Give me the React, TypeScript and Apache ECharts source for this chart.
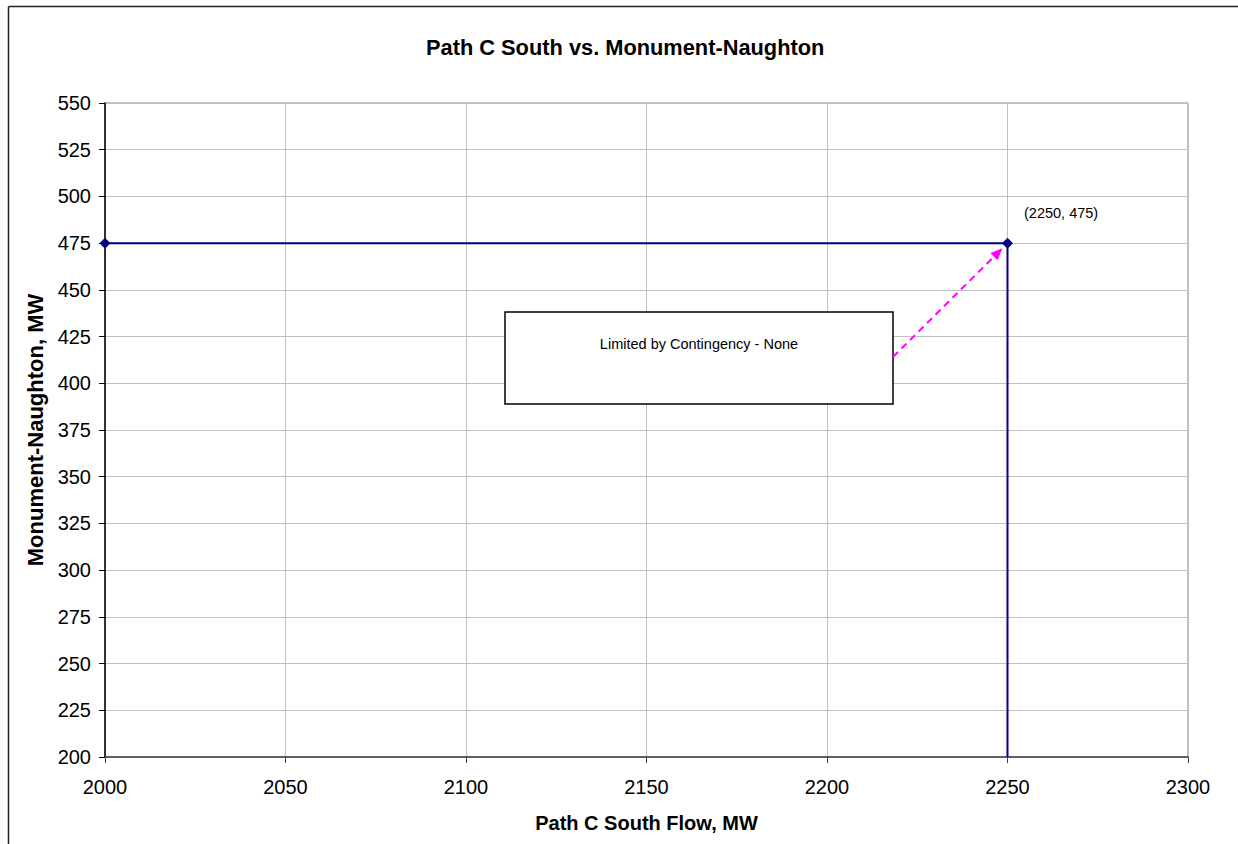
import React, { useEffect, useRef } from "react";
import * as echarts from "echarts";

const flowValues = [2000, 2250, 2250];
const mnValues = [475, 475, 200];
const showMarker = [true, true, false];
const pointLabel = "(2250, 475)";
const annotationText = "Limited by Contingency - None";
const titleText = "Path C South vs. Monument-Naughton";
const xName = "Path C South Flow, MW";
const yName = "Monument-Naughton, MW";

export default function App() {
  const ref = useRef<HTMLDivElement>(null);
  useEffect(() => {
    if (!ref.current) return;
    const chart = echarts.init(ref.current, null, { renderer: "svg" });
    const font = "Arial, 'Liberation Sans', sans-serif";
    const data = flowValues.map((x, i) => ({
      value: [x, mnValues[i]],
      symbol: showMarker[i] ? "diamond" : "none",
      label: {
        show: i === 1,
        formatter: pointLabel,
        position: "right",
        offset: [6, -30],
        fontSize: 14.5,
        color: "#000",
        fontFamily: font,
      },
    }));
    chart.setOption({
      animation: false,
      backgroundColor: "#fff",
      textStyle: { fontFamily: font },
      title: {
        text: titleText,
        left: 421,
        top: 31,
        textStyle: { fontSize: 21.8, fontWeight: "bold", color: "#000", fontFamily: font },
      },
      grid: {
        left: 105,
        top: 103,
        width: 1083,
        height: 654,
        show: true,
        borderColor: "#808080",
        borderWidth: 1,
        backgroundColor: "#fff",
      },
      xAxis: {
        type: "value",
        min: 2000,
        max: 2300,
        interval: 50,
        name: xName,
        nameLocation: "middle",
        nameGap: 56,
        nameTextStyle: { fontSize: 20, fontWeight: "bold", color: "#000", fontFamily: font },
        axisLine: { show: true, onZero: false, lineStyle: { color: "#404040", width: 1.5 } },
        axisTick: { show: true, inside: false, length: 6, lineStyle: { color: "#404040" } },
        axisLabel: {
          fontSize: 20,
          color: "#000",
          margin: 20,
          fontFamily: font,
          formatter: (v: number) => String(v),
        },
        splitLine: { show: true, lineStyle: { color: "#c0c0c0", width: 1 } },
      },
      yAxis: {
        type: "value",
        min: 200,
        max: 550,
        interval: 25,
        name: yName,
        nameLocation: "middle",
        nameGap: 59,
        nameTextStyle: { fontSize: 22, fontWeight: "bold", color: "#000", fontFamily: font },
        axisLine: { show: true, onZero: false, lineStyle: { color: "#000", width: 1.5 } },
        axisTick: { show: true, inside: false, length: 6, lineStyle: { color: "#000" } },
        axisLabel: {
          fontSize: 20,
          color: "#000",
          margin: 14,
          fontFamily: font,
          formatter: (v: number) => String(v),
        },
        splitLine: { show: true, lineStyle: { color: "#c0c0c0", width: 1 } },
      },
      series: [
        {
          type: "line",
          data,
          symbolSize: 11,
          itemStyle: { color: "#000080" },
          lineStyle: { color: "#000080", width: 2 },
          clip: false,
        },
      ],
    });

    const p = chart.convertToPixel({ gridIndex: 0 }, [flowValues[1], mnValues[1]]) as number[];
    const sx = 893;
    const sy = 357;
    const ex = p[0] - 5;
    const ey = p[1] + 5;
    const ang = Math.atan2(ey - sy, ex - sx);
    const ah = 12;
    const aw = 5;
    const bx = ex - ah * Math.cos(ang);
    const by = ey - ah * Math.sin(ang);
    const nx = -Math.sin(ang);
    const ny = Math.cos(ang);

    chart.setOption({
      graphic: [
        {
          type: "line",
          shape: { x1: 8.5, y1: 6.5, x2: 8.5, y2: 900 },
          style: { stroke: "#222", lineWidth: 1.5 },
          silent: true,
        },
        {
          type: "line",
          shape: { x1: 8.5, y1: 6.5, x2: 1300, y2: 6.5 },
          style: { stroke: "#222", lineWidth: 1.5 },
          silent: true,
        },
        {
          type: "rect",
          shape: { x: 505, y: 312, width: 388, height: 92 },
          style: { fill: "#fff", stroke: "#000", lineWidth: 1.5 },
          z: 100,
        },
        {
          type: "text",
          x: 699,
          y: 344,
          style: {
            text: annotationText,
            fontSize: 14.5,
            fontFamily: font,
            fill: "#000",
            align: "center",
            verticalAlign: "middle",
          },
          z: 101,
        },
        {
          type: "line",
          shape: { x1: sx, y1: sy, x2: bx, y2: by },
          style: { stroke: "#ff00ff", lineWidth: 2, lineDash: [7, 5] },
          z: 100,
        },
        {
          type: "polygon",
          shape: {
            points: [
              [ex, ey],
              [bx + nx * aw, by + ny * aw],
              [bx - nx * aw, by - ny * aw],
            ],
          },
          style: { fill: "#ff00ff" },
          z: 100,
        },
      ],
    });

    return () => chart.dispose();
  }, []);
  return (
    <div
      ref={ref}
      style={{ position: "fixed", left: 0, top: 0, width: 1238, height: 844 }}
    />
  );
}
